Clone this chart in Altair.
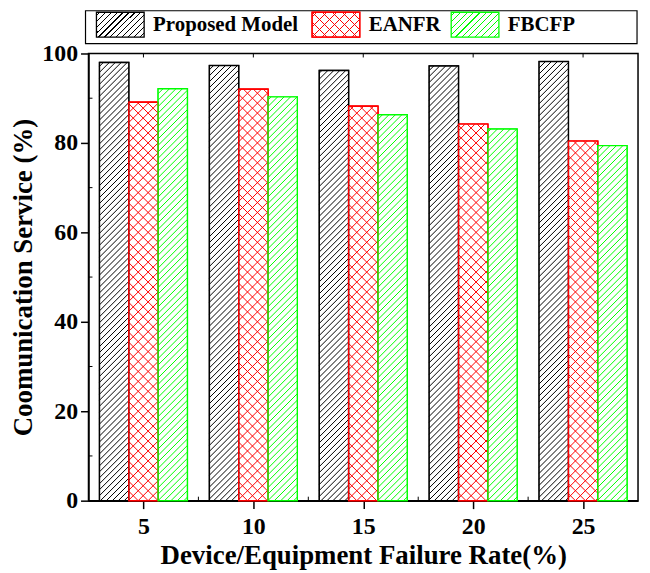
import altair as alt
import pandas as pd

rates = [5, 10, 15, 20, 25]
series_names = ["Proposed Model", "EANFR", "FBCFP"]
proposed = [98.0, 97.3, 96.2, 97.2, 98.2]
eanfr = [89.1, 92.0, 88.2, 84.2, 80.4]
fbcfp = [92.1, 90.3, 86.3, 83.1, 79.4]
colors = ["#000000", "#FF0000", "#00FF00"]
y_ticks = [0, 20, 40, 60, 80, 100]
y_minor = [10, 30, 50, 70, 90]
x_minor = [7.5, 12.5, 17.5, 22.5]

W, H = 553, 450
X_DOM = [2.5, 27.5]
Y_DOM = [0, 100]
FONT = "Liberation Serif"
GROUP = 4.0  # group width in x units
sx = W / (X_DOM[1] - X_DOM[0])
sy = H / (Y_DOM[1] - Y_DOM[0])

# hatch styles: (period in px, directions)
hatch_style = {
    "Proposed Model": (6.0, ["/"]),
    "EANFR": (10.0, ["/", "\\"]),
    "FBCFP": (6.5, ["/"]),
}

rows = []
for i, (name, vals) in enumerate(zip(series_names, [proposed, eanfr, fbcfp])):
    for r, v in zip(rates, vals):
        x0 = r - GROUP / 2 + i * GROUP / 3
        rows.append({"rate": r, "series": name, "value": v, "x0": x0, "x1": x0 + GROUP / 3})
df = pd.DataFrame(rows)

# hatch line segments derived from each bar's rectangle
hrows = []
for row in rows:
    xl = (row["x0"] - X_DOM[0]) * sx
    xr = (row["x1"] - X_DOM[0]) * sx
    yt = H - row["value"] * sy
    yb = H
    period, dirs = hatch_style[row["series"]]
    for d in dirs:
        if d == "/":
            k0 = int((xl + yt) // period)
            k1 = int((xr + yb) // period) + 1
            for k in range(k0, k1 + 1):
                c = k * period
                lo, hi = max(yt, c - xr), min(yb, c - xl)
                if hi - lo > 0.3:
                    hrows.append((row["series"], [(c - lo, lo), (c - hi, hi)]))
        else:
            k0 = int((xl - yb) // period)
            k1 = int((xr - yt) // period) + 1
            for k in range(k0, k1 + 1):
                c = k * period
                lo, hi = max(yt, xl - c), min(yb, xr - c)
                if hi - lo > 0.3:
                    hrows.append((row["series"], [(c + lo, lo), (c + hi, hi)]))
hdf = pd.DataFrame([
    {"series": s,
     "hx": X_DOM[0] + p[0][0] / sx, "hy": (H - p[0][1]) / sy,
     "hx2": X_DOM[0] + p[1][0] / sx, "hy2": (H - p[1][1]) / sy}
    for s, p in hrows
])


def hatch_gradient(color, bg, w, h, period, lw, back=False):
    L = w + h
    t = L / (w * w + h * h)
    if back:
        x1, y1, x2, y2 = 0, 1, t * w, 1 - t * h
    else:
        x1, y1, x2, y2 = 0, 0, t * w, t * h
    stops = []
    c = period / 2
    while c - lw / 2 < L:
        a = max(0.0, (c - lw / 2) / L)
        b = min(1.0, (c + lw / 2) / L)
        stops += [{"offset": round(a, 5), "color": bg}, {"offset": round(a, 5), "color": color},
                  {"offset": round(b, 5), "color": color}, {"offset": round(b, 5), "color": bg}]
        c += period
    return {"gradient": "linear", "x1": x1, "y1": y1, "x2": round(x2, 5), "y2": round(y2, 5),
            "stops": stops}


x_enc = alt.X("x0:Q", scale=alt.Scale(domain=X_DOM, nice=False, zero=False),
              axis=alt.Axis(title="Device/Equipment Failure Rate(%)", values=rates,
                            tickSize=8, labelPadding=6, titlePadding=4, grid=False,
                            titleFontSize=27))
y_enc = alt.Y("value:Q", scale=alt.Scale(domain=Y_DOM, nice=False),
              axis=alt.Axis(title="Coomunication Service (%)", values=y_ticks,
                            tickSize=8, labelPadding=3, titlePadding=4, grid=False,
                            titleFontSize=27))

base = alt.Chart(df).encode(x=x_enc, x2="x1:Q", y=y_enc, y2=alt.datum(0))

SYM_W, SYM_H = 48, 25
legend_x = {"Proposed Model": 7, "EANFR": 224, "FBCFP": 364}
carriers = []
carrier_specs = [
    ("Proposed Model", 0, False, "white", 1),
    ("EANFR", 1, False, "white", 1),
    ("EANFR", 1, True, "transparent", 0),
    ("FBCFP", 2, False, "white", 1),
]
for name, ci, back, bg, lab_op in carrier_specs:
    period = hatch_style[name][0]
    g = hatch_gradient(colors[ci], bg, SYM_W, SYM_H, period, 1.1, back)
    carriers.append(
        base.transform_filter(alt.datum.series == name).mark_bar(fill=g, strokeWidth=1.3).encode(
            stroke=alt.Stroke("series:N", scale=alt.Scale(domain=[name], range=[colors[ci]]),
                              legend=alt.Legend(
                                  title=None, orient="none", legendX=legend_x[name], legendY=-54,
                                  padding=0, symbolType="M-1,-0.52H1V0.52H-1Z", symbolSize=2304,
                                  symbolStrokeWidth=1.3, labelFont=FONT, labelFontSize=21,
                                  labelFontWeight="bold", labelColor="black", labelOffset=8,
                                  labelOpacity=lab_op, labelLimit=400))
        )
    )

cover = base.mark_bar(fill="white", strokeWidth=0)

hatch = alt.Chart(hdf).mark_rule(strokeWidth=1).encode(
    x="hx:Q", y="hy:Q", x2="hx2:Q", y2="hy2:Q",
    color=alt.Color("series:N", scale=alt.Scale(domain=series_names, range=colors), legend=None),
)

outline = base.mark_bar(fillOpacity=0, strokeWidth=1.4).encode(
    stroke=alt.Stroke("series:N", scale=alt.Scale(domain=series_names, range=colors), legend=None)
)

# small inward minor ticks (left and bottom) and inward major ticks on the top frame
left_minor = alt.Chart(pd.DataFrame({"v": y_minor})).mark_rule(color="black", strokeWidth=1).encode(
    y=alt.Y("v:Q", scale=alt.Scale(domain=Y_DOM, nice=False)), x=alt.value(0), x2=alt.value(4))
bottom_minor = alt.Chart(pd.DataFrame({"v": x_minor})).mark_rule(color="black", strokeWidth=1).encode(
    x=alt.X("v:Q", scale=alt.Scale(domain=X_DOM, nice=False, zero=False)),
    y=alt.value(H), y2=alt.value(H - 4))
top_major = alt.Chart(pd.DataFrame({"v": rates})).mark_rule(color="black", strokeWidth=1).encode(
    x=alt.X("v:Q", scale=alt.Scale(domain=X_DOM, nice=False, zero=False)),
    y=alt.value(0), y2=alt.value(4))

legend_box = alt.Chart(df).mark_rect(fill="white", stroke="black", strokeWidth=1.2).encode(
    x=alt.value(-3), x2=alt.value(552), y=alt.value(-43), y2=alt.value(-10)
).transform_filter(alt.datum.rate == 5).transform_filter(alt.datum.series == "EANFR")

chart = alt.layer(legend_box, *carriers, cover, hatch, outline,
                  left_minor, bottom_minor, top_major).resolve_scale(
    stroke="independent"
).resolve_legend(stroke="independent").properties(
    width=W, height=H,
    autosize=alt.AutoSizeParams(type="none"),
    padding={"left": 81, "top": 44, "right": 4, "bottom": 68},
).configure_view(stroke="black", strokeWidth=1.5).configure_axis(
    labelFont=FONT, labelFontSize=24, labelFontWeight="bold", labelColor="black",
    titleFont=FONT, titleFontWeight="bold", titleColor="black",
    domainColor="black", domainWidth=1.5, tickColor="black", tickWidth=1.5,
)

chart.save("out.html", embed_options={"renderer": "svg", "actions": False})
